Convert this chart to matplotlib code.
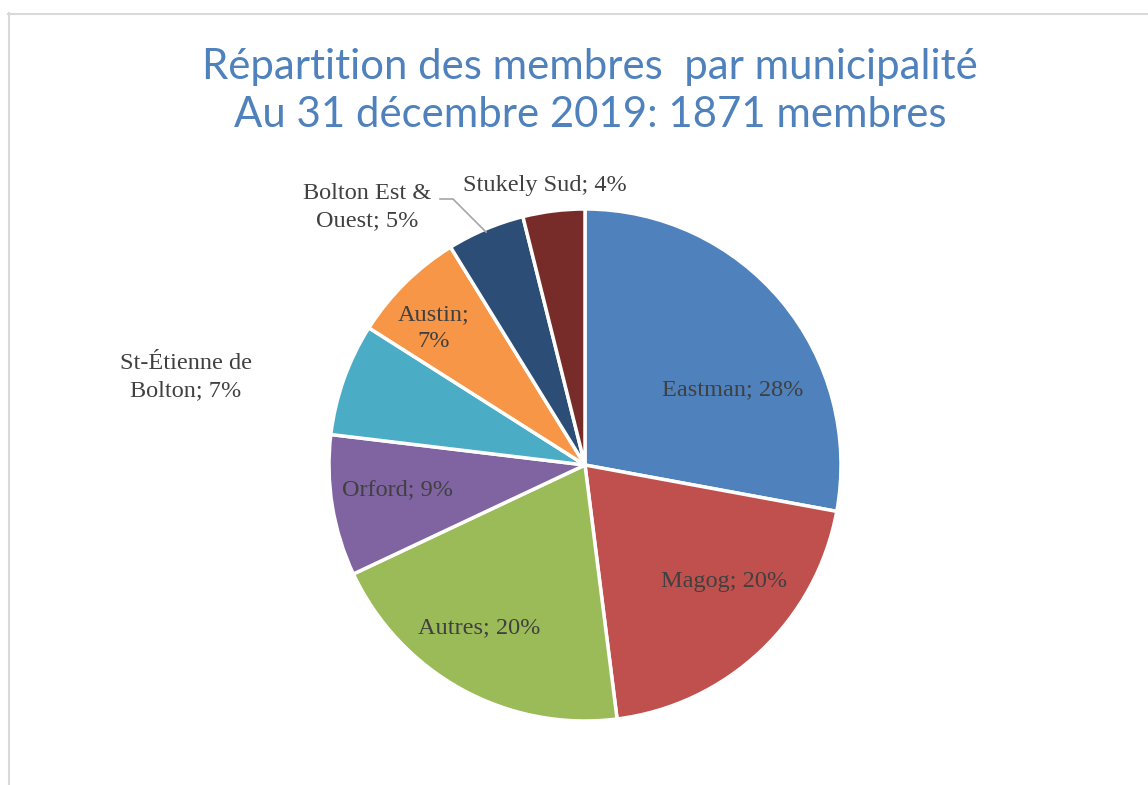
import matplotlib
matplotlib.use("Agg")
import matplotlib.pyplot as plt
from matplotlib.lines import Line2D

# Data (percent of 1871 members)
municipalities = ["Eastman", "Magog", "Autres", "Orford", "St-Étienne de Bolton",
                  "Austin", "Bolton Est & Ouest", "Stukely Sud"]
shares = [27.9, 20.1, 20.0, 8.9, 7.1, 7.2, 4.9, 3.9]
label_texts = ["Eastman; 28%", "Magog; 20%", "Autres; 20%", "Orford; 9%",
               "St-Étienne de\nBolton; 7%", "Austin;\n7%", "Bolton Est &\nOuest; 5%",
               "Stukely Sud; 4%"]
colors = ["#4f81bd", "#c0504d", "#9bbb59", "#8064a2", "#4bacc6",
          "#f79646", "#2c4d75", "#772c2a"]

W, H = 1148, 785
CX, CY, R = 585, 465, 256

# label centres in pixels (image coords)
label_px = [(733, 390), (724, 582), (479, 628), (397, 490), (186, 377),
            (434, 328), (367, 207), (545, 186)]


def to_data(px, py):
    return (px - CX) / R, (CY - py) / R


fig = plt.figure(figsize=(W / 100, H / 100), dpi=100)
ax = fig.add_axes([(CX - R) / W, (H - CY - R) / H, 2 * R / W, 2 * R / H])

ax.pie(shares, colors=colors, startangle=90, counterclock=False, radius=1,
       wedgeprops=dict(edgecolor="white", linewidth=2.5))
ax.set_xlim(-1, 1)
ax.set_ylim(-1, 1)
ax.set_aspect("equal")
ax.axis("off")

for txt, (px, py) in zip(label_texts, label_px):
    x, y = to_data(px, py)
    ax.text(x, y, txt, ha="center", va="center", fontsize=17.5,
            family="Liberation Serif", color="#404040", linespacing=1.35)

# leader line for Bolton Est & Ouest
lx, ly = zip(to_data(440, 199), to_data(453, 199), to_data(486, 232))
ax.plot(lx, ly, color="#a6a6a6", lw=1.2, clip_on=False)

# titles
fig.text(590 / W, 1 - 67 / H, "Répartition des membres  par municipalité",
         ha="center", va="center", fontsize=30.2, color="#4f81bd", family="Lato")
fig.text(590 / W, 1 - 115 / H, "Au 31 décembre 2019: 1871 membres",
         ha="center", va="center", fontsize=30.2, color="#4f81bd", family="Lato")

# chart frame (only top and left edges visible)
fig.add_artist(Line2D([8.5 / W, 8.5 / W], [0, 1 - 13 / H], color="#d9d9d9", lw=1.5))
fig.add_artist(Line2D([8 / W, 1], [1 - 13.5 / H, 1 - 13.5 / H], color="#d9d9d9", lw=1.5))

fig.savefig("out.png", dpi=100, facecolor="white")
